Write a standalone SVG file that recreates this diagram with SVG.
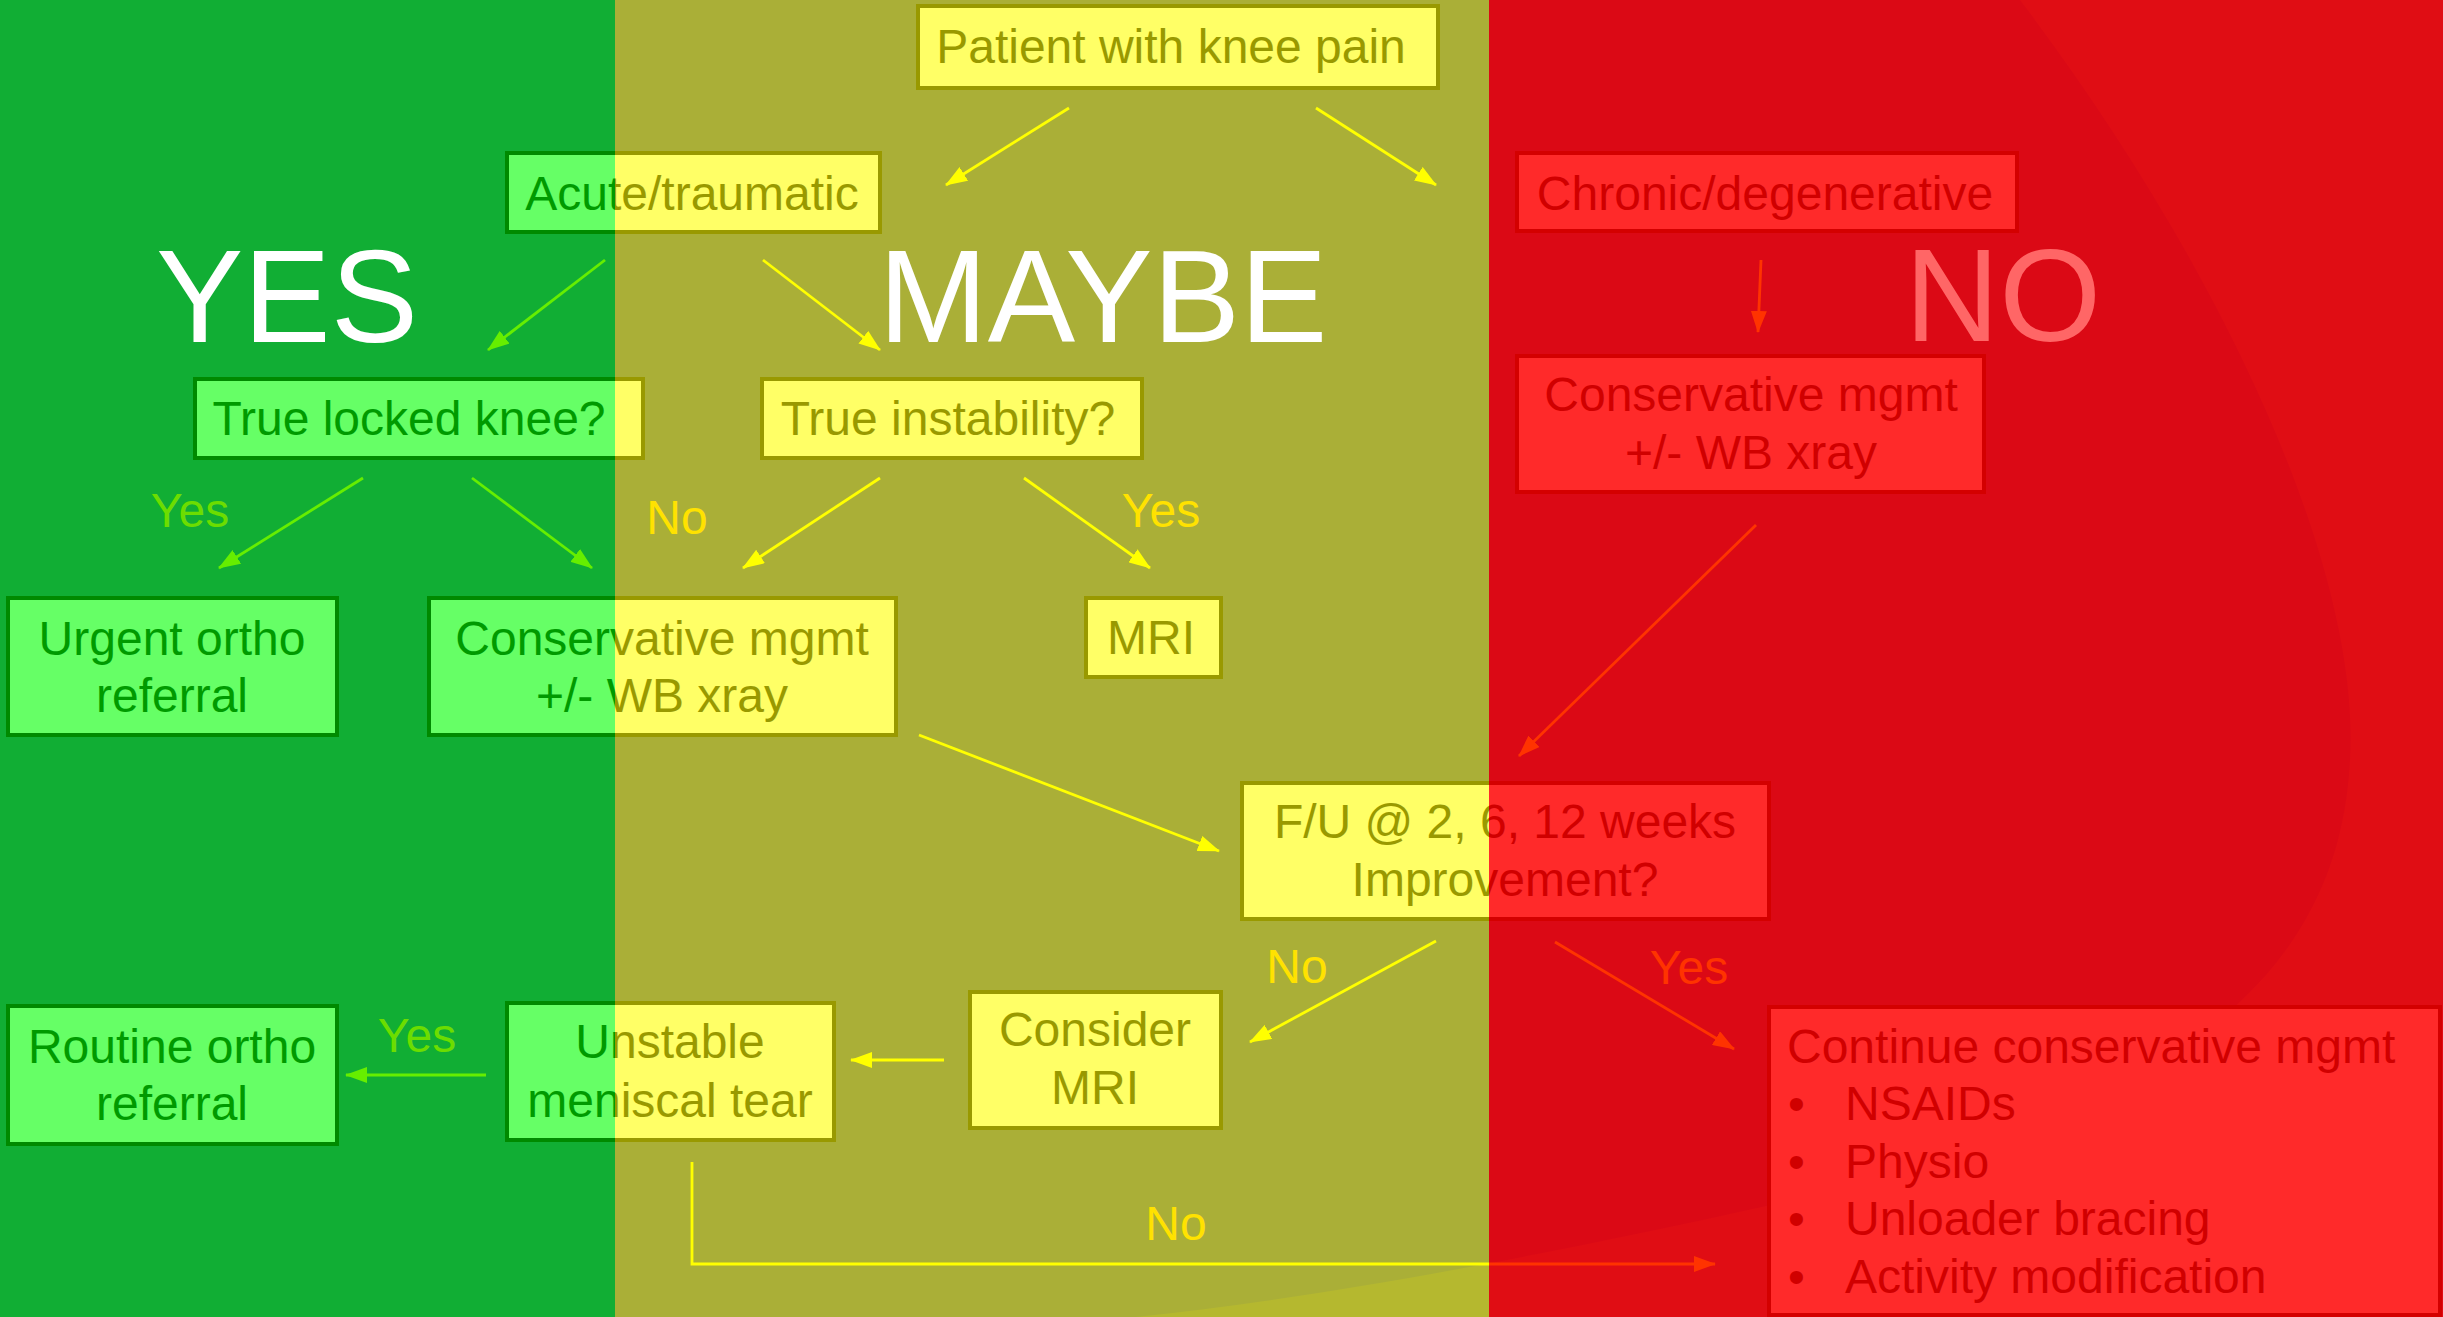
<svg xmlns="http://www.w3.org/2000/svg" width="2443" height="1317" viewBox="0 0 2443 1317">
<defs>
<linearGradient id="gFill" gradientUnits="userSpaceOnUse" x1="0" y1="0" x2="2443" y2="0">
<stop offset="0" stop-color="#66FF66"/><stop offset="0.25174" stop-color="#66FF66"/>
<stop offset="0.25174" stop-color="#FFFF66"/><stop offset="0.6095" stop-color="#FFFF66"/>
<stop offset="0.6095" stop-color="#FF2A2A"/><stop offset="1" stop-color="#FF2A2A"/>
</linearGradient>
<linearGradient id="gStroke" gradientUnits="userSpaceOnUse" x1="0" y1="0" x2="2443" y2="0">
<stop offset="0" stop-color="#008A00"/><stop offset="0.25174" stop-color="#008A00"/>
<stop offset="0.25174" stop-color="#999900"/><stop offset="0.6095" stop-color="#999900"/>
<stop offset="0.6095" stop-color="#D40000"/><stop offset="1" stop-color="#D40000"/>
</linearGradient>
<linearGradient id="gInk" gradientUnits="userSpaceOnUse" x1="0" y1="0" x2="2443" y2="0">
<stop offset="0" stop-color="#009A00"/><stop offset="0.25174" stop-color="#009A00"/>
<stop offset="0.25174" stop-color="#999900"/><stop offset="0.6095" stop-color="#999900"/>
<stop offset="0.6095" stop-color="#D00000"/><stop offset="1" stop-color="#D00000"/>
</linearGradient>
<linearGradient id="gLine" gradientUnits="userSpaceOnUse" x1="0" y1="0" x2="2443" y2="0">
<stop offset="0" stop-color="#66EE00"/><stop offset="0.25174" stop-color="#66EE00"/>
<stop offset="0.25174" stop-color="#FFFF00"/><stop offset="0.6095" stop-color="#FFFF00"/>
<stop offset="0.6095" stop-color="#FF3300"/><stop offset="1" stop-color="#FF3300"/>
</linearGradient>
<linearGradient id="gSwoosh" gradientUnits="userSpaceOnUse" x1="0" y1="0" x2="2443" y2="0">
<stop offset="0" stop-color="#B5B82F"/><stop offset="0.6095" stop-color="#B5B82F"/>
<stop offset="0.6095" stop-color="#E00D14"/><stop offset="1" stop-color="#E00D14"/>
</linearGradient>
<marker id="aG" markerWidth="22" markerHeight="16" refX="21" refY="8" orient="auto" markerUnits="userSpaceOnUse"><path d="M0,0 L22,8 L0,16 Z" fill="#66EE00"/></marker>
<marker id="aY" markerWidth="22" markerHeight="16" refX="21" refY="8" orient="auto" markerUnits="userSpaceOnUse"><path d="M0,0 L22,8 L0,16 Z" fill="#FFFF00"/></marker>
<marker id="aR" markerWidth="22" markerHeight="16" refX="21" refY="8" orient="auto" markerUnits="userSpaceOnUse"><path d="M0,0 L22,8 L0,16 Z" fill="#FF3300"/></marker>
<style>
text{font-family:"Liberation Sans",Arial,sans-serif;}
.box{fill:url(#gFill);stroke:url(#gStroke);stroke-width:4;}
.t{font-size:48px;fill:url(#gInk);text-anchor:middle;}
.tl{font-size:48px;fill:url(#gInk);}
.ln{fill:none;stroke:url(#gLine);stroke-width:2.8;}
.lbl{font-size:48px;text-anchor:middle;}
.lg{fill:#6CDD00;} .ly{fill:#FFE200;} .lr{fill:#FF3300;}
.big{font-size:131px;text-anchor:middle;}
</style>
</defs>

<g id="background">
<rect x="0" y="0" width="615" height="1317" fill="#11AE34"/>
<rect x="615" y="0" width="874" height="1317" fill="#AAAF37"/>
<rect x="1489" y="0" width="954" height="1317" fill="#DB0915"/>
<path d="M2020,0 C2210,250 2362,560 2350,760 C2340,960 2200,1110 1771,1205 C1500,1265 1300,1300 1136,1317 L2443,1317 L2443,0 Z" fill="url(#gSwoosh)"/>
</g>

<g id="lane-titles">
<text class="big" x="287" y="342" fill="#FFFFFF">YES</text>
<text class="big" x="1103" y="342" fill="#FFFFFF">MAYBE</text>
<text class="big" x="2003" y="341" fill="#FF6666">NO</text>
</g>

<g id="connectors">
<line class="ln" x1="1069" y1="108" x2="946" y2="185" marker-end="url(#aY)"/>
<line class="ln" x1="1316" y1="108" x2="1436" y2="185" marker-end="url(#aY)"/>
<line class="ln" x1="605" y1="260" x2="488" y2="350" marker-end="url(#aG)"/>
<line class="ln" x1="763" y1="260" x2="880" y2="350" marker-end="url(#aY)"/>
<line class="ln" x1="1761" y1="260" x2="1758" y2="332" marker-end="url(#aR)"/>
<line class="ln" x1="363" y1="478" x2="219" y2="568" marker-end="url(#aG)"/>
<line class="ln" x1="472" y1="478" x2="592" y2="568" marker-end="url(#aG)"/>
<line class="ln" x1="880" y1="478" x2="743" y2="568" marker-end="url(#aY)"/>
<line class="ln" x1="1024" y1="478" x2="1150" y2="568" marker-end="url(#aY)"/>
<line class="ln" x1="1756" y1="525" x2="1519" y2="756" marker-end="url(#aR)"/>
<line class="ln" x1="919" y1="735" x2="1219" y2="851" marker-end="url(#aY)"/>
<line class="ln" x1="1436" y1="941" x2="1250" y2="1042" marker-end="url(#aY)"/>
<line class="ln" x1="1555" y1="942" x2="1734" y2="1049" marker-end="url(#aR)"/>
<line class="ln" x1="944" y1="1060" x2="851" y2="1060" marker-end="url(#aY)"/>
<line class="ln" x1="486" y1="1075" x2="346" y2="1075" marker-end="url(#aG)"/>
<polyline class="ln" points="692,1162 692,1264 1715,1264" marker-end="url(#aR)"/>
<text class="lbl lg" x="190" y="527">Yes</text>
<text class="lbl ly" x="677" y="534">No</text>
<text class="lbl ly" x="1161" y="527">Yes</text>
<text class="lbl ly" x="1297" y="983">No</text>
<text class="lbl lr" x="1689" y="984">Yes</text>
<text class="lbl lg" x="417" y="1052">Yes</text>
<text class="lbl ly" x="1176" y="1240">No</text>
</g>

<g id="n-patient"><rect class="box" x="918" y="6" width="520" height="82"/><text class="t" x="1171" y="63">Patient with knee pain</text></g>
<g id="n-acute"><rect class="box" x="507" y="153" width="373" height="79"/><text class="t" x="692" y="210">Acute/traumatic</text></g>
<g id="n-chronic"><rect class="box" x="1517" y="153" width="500" height="78"/><text class="t" x="1765" y="210">Chronic/degenerative</text></g>
<g id="n-locked"><rect class="box" x="195" y="379" width="448" height="79"/><text class="t" x="409" y="435">True locked knee?</text></g>
<g id="n-instability"><rect class="box" x="762" y="379" width="380" height="79"/><text class="t" x="948" y="435">True instability?</text></g>
<g id="n-conservative-chronic"><rect class="box" x="1517" y="356" width="467" height="136"/><text class="t" x="1751" y="411">Conservative mgmt<tspan x="1751" y="469">+/- WB xray</tspan></text></g>
<g id="n-urgent"><rect class="box" x="8" y="598" width="329" height="137"/><text class="t" x="172" y="655">Urgent ortho<tspan x="172" y="712">referral</tspan></text></g>
<g id="n-conservative-acute"><rect class="box" x="429" y="598" width="467" height="137"/><text class="t" x="662" y="655">Conservative mgmt<tspan x="662" y="712">+/- WB xray</tspan></text></g>
<g id="n-mri"><rect class="box" x="1086" y="598" width="135" height="79"/><text class="t" x="1151" y="654">MRI</text></g>
<g id="n-followup"><rect class="box" x="1242" y="783" width="527" height="136"/><text class="t" x="1505" y="838">F/U @ 2, 6, 12 weeks<tspan x="1505" y="896">Improvement?</tspan></text></g>
<g id="n-routine"><rect class="box" x="8" y="1006" width="329" height="138"/><text class="t" x="172" y="1063">Routine ortho<tspan x="172" y="1120">referral</tspan></text></g>
<g id="n-unstable"><rect class="box" x="507" y="1003" width="327" height="137"/><text class="t" x="670" y="1058">Unstable<tspan x="670" y="1117">meniscal tear</tspan></text></g>
<g id="n-consider-mri"><rect class="box" x="970" y="992" width="251" height="136"/><text class="t" x="1095" y="1046">Consider<tspan x="1095" y="1104">MRI</tspan></text></g>
<g id="n-continue"><rect class="box" x="1769" y="1007" width="671" height="308"/>
<text class="tl" x="1787" y="1063">Continue conservative mgmt</text>
<text class="tl" x="1788" y="1120">•</text><text class="tl" x="1845" y="1120">NSAIDs</text>
<text class="tl" x="1788" y="1178">•</text><text class="tl" x="1845" y="1178">Physio</text>
<text class="tl" x="1788" y="1235">•</text><text class="tl" x="1845" y="1235">Unloader bracing</text>
<text class="tl" x="1788" y="1293">•</text><text class="tl" x="1845" y="1293">Activity modification</text>
</g>
</svg>
